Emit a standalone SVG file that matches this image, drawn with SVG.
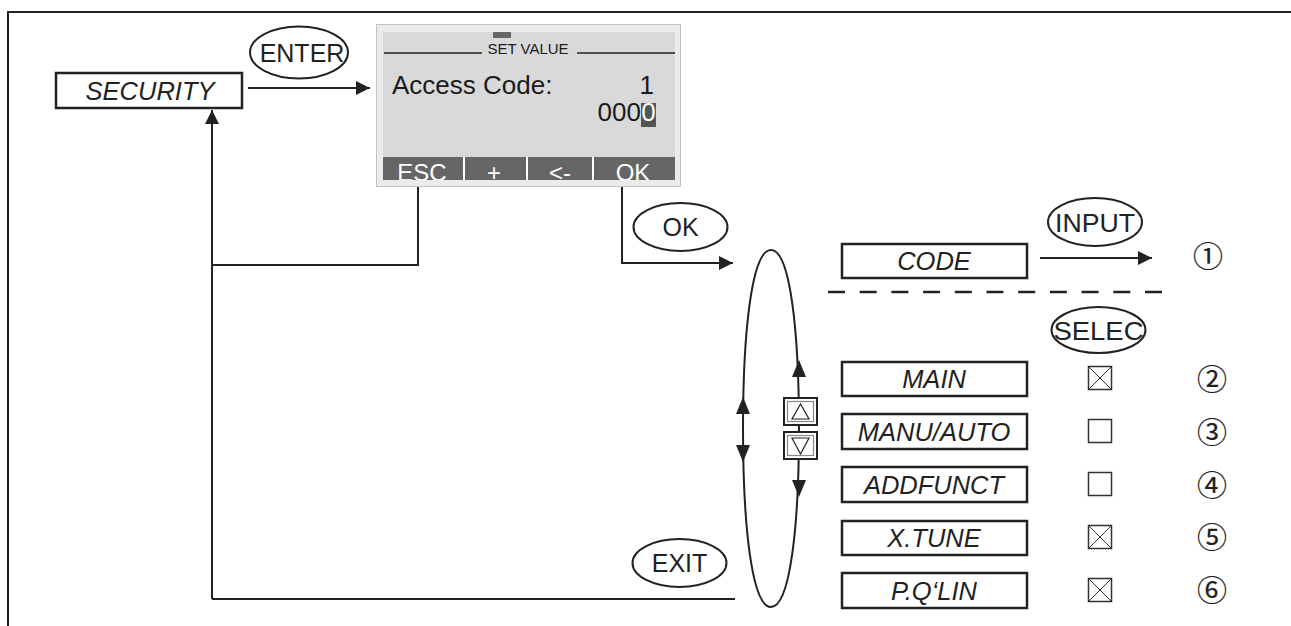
<svg xmlns="http://www.w3.org/2000/svg" width="1291" height="626" viewBox="0 0 1291 626">
<defs>
<style>
.ln{fill:none;stroke:#222;stroke-width:2}
.box{fill:#fff;stroke:#222;stroke-width:2.5}
.lbl{font-family:"Liberation Sans",Arial,sans-serif;font-style:italic;font-size:25.5px;fill:#222;text-anchor:middle}
.key{fill:#fff;stroke:#222;stroke-width:2}
.kt{font-family:"Liberation Sans",Arial,sans-serif;font-size:25px;fill:#222;text-anchor:middle}
.cb{fill:#fff;stroke:#333;stroke-width:1.5}
.cx{stroke:#333;stroke-width:1}
.num{font-family:"Noto Sans CJK JP","Noto Sans CJK SC","DejaVu Sans",sans-serif;font-size:30px;fill:#222;stroke:#222;stroke-width:0.2;text-anchor:middle}
.scr{font-family:"Liberation Sans",Arial,sans-serif;fill:#1a1a1a}
.soft{font-family:"Liberation Sans",Arial,sans-serif;font-size:24px;fill:#fff;text-anchor:middle}
</style>
<marker id="ah" viewBox="0 0 10 10" refX="10" refY="5" markerWidth="18" markerHeight="14" markerUnits="userSpaceOnUse" orient="auto">
<path d="M0,0 L10,5 L0,10 z" fill="#222"/>
</marker>
<clipPath id="barclip"><rect x="383" y="157" width="292" height="23"/></clipPath>
</defs>
<rect width="1291" height="626" fill="#fff"/>
<path d="M8,626 V12 H1291" fill="none" stroke="#222" stroke-width="2"/>

<g id="connectors">
<line class="ln" x1="248" y1="88" x2="370" y2="88" marker-end="url(#ah)"/>
<polyline class="ln" points="418,187 418,265 212,265"/>
<line class="ln" x1="212" y1="599" x2="212" y2="110" marker-end="url(#ah)"/>
<line class="ln" x1="212" y1="599" x2="735" y2="599"/>
<polyline class="ln" points="622,187 622,263 733,263" marker-end="url(#ah)"/>
<line class="ln" x1="1040" y1="258" x2="1152" y2="258" marker-end="url(#ah)"/>
<line x1="828" y1="292" x2="1165" y2="292" stroke="#222" stroke-width="2.5" stroke-dasharray="17,14.7"/>
<path class="ln" d="M771,250 C790,250 799,330 799,428.5 C799,527 790,607 771,607 C752,607 743,527 743,428.5 C743,330 752,250 771,250 Z"/>
<path d="M743,397 L736,414 L750,414 z" fill="#222"/>
<path d="M743,462 L736,445 L750,445 z" fill="#222"/>
<path d="M799,360 L792,377 L806,377 z" fill="#222"/>
<path d="M799,497 L792,480 L806,480 z" fill="#222"/>
</g>

<g id="security">
<rect class="box" x="56" y="73" width="186" height="35"/>
<text class="lbl" x="150" y="100">SECURITY</text>
</g>

<g id="enter">
<ellipse class="key" cx="299" cy="52.5" rx="49" ry="26"/>
<text class="kt" x="302" y="61.5">ENTER</text>
</g>

<g id="display">
<rect x="376.5" y="24.5" width="304" height="162" fill="#ebebeb" stroke="#c2c2c2" stroke-width="1"/>
<rect x="383" y="32" width="292" height="148" fill="#d9d9d9"/>
<rect x="493" y="32" width="18" height="6" fill="#666"/>
<line x1="384" y1="53" x2="482" y2="53" stroke="#222" stroke-width="1.5"/>
<line x1="577" y1="53" x2="675" y2="53" stroke="#222" stroke-width="1.5"/>
<text class="scr" x="528" y="54" font-size="15" text-anchor="middle">SET VALUE</text>
<text class="scr" x="392" y="94" font-size="26">Access Code:</text>
<text class="scr" x="654" y="94" font-size="26" text-anchor="end">1</text>
<rect x="641" y="103" width="15" height="24" fill="#555"/>
<text class="scr" x="641" y="121" font-size="26" text-anchor="end">000</text>
<text x="648.5" y="121" font-size="26" font-family="'Liberation Sans',Arial,sans-serif" fill="#fff" text-anchor="middle">0</text>
<rect x="383" y="157" width="292" height="23" fill="#666"/>
<g stroke="#fff" stroke-width="2">
<line x1="464" y1="157" x2="464" y2="180"/>
<line x1="527" y1="157" x2="527" y2="180"/>
<line x1="593" y1="157" x2="593" y2="180"/>
</g>
<g clip-path="url(#barclip)">
<text class="soft" x="422" y="181">ESC</text>
<text class="soft" x="494" y="181">+</text>
<text class="soft" x="560" y="181">&lt;-</text>
<text class="soft" x="633" y="181">OK</text>
</g>
</g>

<g id="ok">
<ellipse class="key" cx="680.5" cy="227" rx="47" ry="24"/>
<text class="kt" x="680.5" y="236">OK</text>
</g>

<g id="exit">
<ellipse class="key" cx="679.5" cy="563" rx="47" ry="24"/>
<text class="kt" x="679.5" y="572">EXIT</text>
</g>

<g id="input">
<ellipse class="key" cx="1095" cy="222" rx="47" ry="24"/>
<text class="kt" x="1095" y="232" textLength="80" lengthAdjust="spacingAndGlyphs">INPUT</text>
</g>

<g id="selec">
<ellipse class="key" cx="1098.5" cy="330" rx="47" ry="23"/>
<text class="kt" x="1098.5" y="340" textLength="90" lengthAdjust="spacingAndGlyphs">SELEC</text>
</g>

<g id="updown">
<rect x="784" y="398" width="33" height="27" fill="#fff" stroke="#222" stroke-width="2"/>
<rect x="787.5" y="401.5" width="26" height="20" fill="#fff" stroke="#888" stroke-width="1.2"/>
<path d="M800.5,404 L792,419 L809,419 z" fill="none" stroke="#222" stroke-width="1.2"/>
<rect x="784" y="432" width="33" height="27" fill="#fff" stroke="#222" stroke-width="2"/>
<rect x="787.5" y="435.5" width="26" height="20" fill="#fff" stroke="#888" stroke-width="1.2"/>
<path d="M800.5,454 L792,438 L809,438 z" fill="none" stroke="#222" stroke-width="1.2"/>
</g>

<g id="code">
<rect class="box" x="842" y="244" width="185" height="34"/>
<text class="lbl" x="934" y="270">CODE</text>
<text class="num" x="1208" y="267">①</text>
</g>

<g id="main">
<rect class="box" x="842" y="362" width="185" height="34"/>
<text class="lbl" x="934" y="388">MAIN</text>
<rect class="cb" x="1088.5" y="366.5" width="23" height="23"/>
<path class="cx" d="M1089,367 L1111,389 M1111,367 L1089,389"/>
<text class="num" x="1212" y="390">②</text>
</g>

<g id="manuauto">
<rect class="box" x="842" y="414" width="185" height="35"/>
<text class="lbl" x="934" y="441">MANU/AUTO</text>
<rect class="cb" x="1088.5" y="419.5" width="23" height="23"/>
<text class="num" x="1212" y="443">③</text>
</g>

<g id="addfunct">
<rect class="box" x="842" y="467" width="185" height="35"/>
<text class="lbl" x="934" y="494">ADDFUNCT</text>
<rect class="cb" x="1088.5" y="472.5" width="23" height="23"/>
<text class="num" x="1212" y="496">④</text>
</g>

<g id="xtune">
<rect class="box" x="842" y="521" width="185" height="34"/>
<text class="lbl" x="934" y="547">X.TUNE</text>
<rect class="cb" x="1088.5" y="525.5" width="23" height="23"/>
<path class="cx" d="M1089,526 L1111,548 M1111,526 L1089,548"/>
<text class="num" x="1212" y="548">⑤</text>
</g>

<g id="pqlin">
<rect class="box" x="842" y="573" width="185" height="35"/>
<text class="lbl" x="934" y="600">P.Q‘LIN</text>
<rect class="cb" x="1088.5" y="578.5" width="23" height="23"/>
<path class="cx" d="M1089,579 L1111,601 M1111,579 L1089,601"/>
<text class="num" x="1212" y="601">⑥</text>
</g>
</svg>
